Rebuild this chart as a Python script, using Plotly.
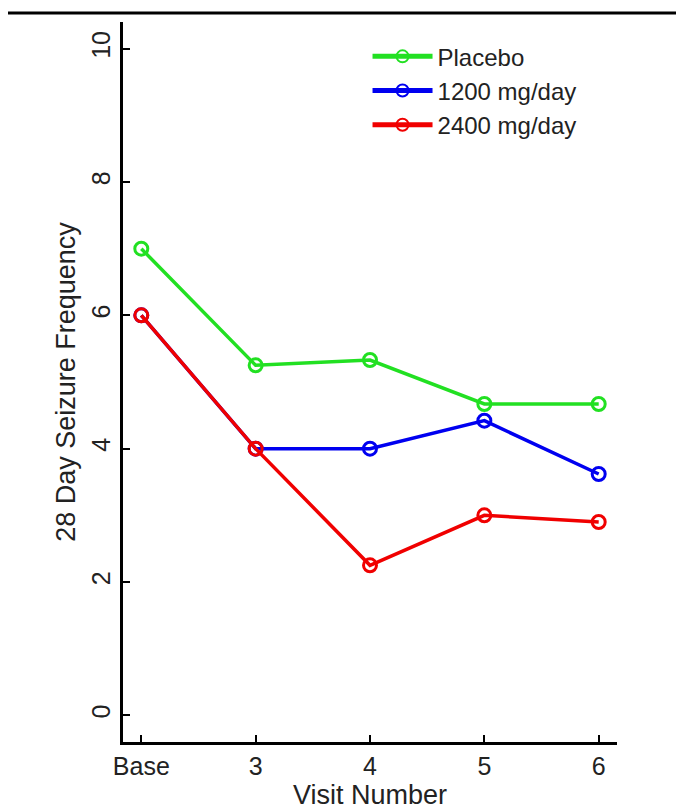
import plotly.graph_objects as go

visit_pos = [2, 3, 4, 5, 6]
tick_labels = ["Base", "3", "4", "5", "6"]
placebo = [7.0, 5.25, 5.33, 4.67, 4.67]
dose_1200 = [6.0, 4.0, 4.0, 4.42, 3.62]
dose_2400 = [6.0, 4.0, 2.25, 3.0, 2.9]

series = [
    ("Placebo", placebo, "#22e022"),
    ("1200 mg/day", dose_1200, "#0000f0"),
    ("2400 mg/day", dose_2400, "#f00000"),
]

fig = go.Figure()
for name, vals, color in series:
    fig.add_trace(go.Scatter(
        x=visit_pos, y=vals, name=name, mode="lines+markers",
        line=dict(color=color, width=3.5),
        marker=dict(symbol="circle-open", size=13, color=color, line=dict(width=3, color=color)),
    ))

fam = "Liberation Sans, Arial, sans-serif"
title_font = dict(family=fam, size=27, color="#222")
tick_font = dict(family=fam, size=25, color="#222")
top_line_y = (734 - 5) / 720
fig.update_layout(
    width=684, height=811,
    margin=dict(l=115, r=75, t=14, b=77),
    paper_bgcolor="white", plot_bgcolor="white",
    font=tick_font,
    showlegend=True,
    legend=dict(x=0.495, y=0.983, xanchor="left", yanchor="top",
                bgcolor="rgba(0,0,0,0)", font=dict(size=24, family=fam, color="#222"),
                itemwidth=60, itemsizing="constant"),
    shapes=[dict(type="line", xref="paper", yref="paper",
                 x0=-0.24, x1=1.3, y0=top_line_y, y1=top_line_y,
                 line=dict(color="black", width=3))],
)

fig.update_xaxes(
    range=[1.84, 6.16], tickvals=visit_pos, ticktext=tick_labels, tickfont=tick_font,
    showline=True, linecolor="black", linewidth=3, ticks="inside", ticklen=7,
    tickwidth=2, tickcolor="black", showgrid=False, zeroline=False,
    title=dict(text="Visit Number", standoff=3, font=title_font),
)
fig.update_yaxes(
    range=[-0.4, 10.4], tickvals=[0, 2, 4, 6, 8, 10], tickangle=-90, tickfont=tick_font,
    showline=True, linecolor="black", linewidth=3, ticks="inside", ticklen=7,
    tickwidth=2, tickcolor="black", showgrid=False, zeroline=False,
    title=dict(text="28 Day Seizure Frequency", standoff=4, font=title_font),
)

fig.write_html("out.html")
